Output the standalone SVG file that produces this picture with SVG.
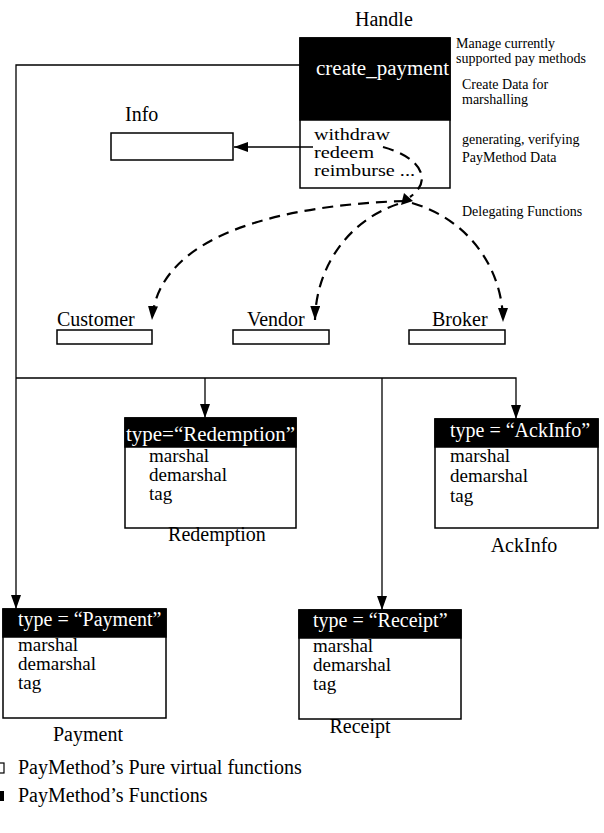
<svg xmlns="http://www.w3.org/2000/svg" width="604" height="833" viewBox="0 0 604 833">
<style>
text{font-family:"Liberation Serif","Times New Roman",serif;fill:#000}
.l{font-size:20px}
.m{font-size:19px}
.h{font-size:16px}
.s{font-size:14px}
.w{fill:#fff}
.box{fill:#fff;stroke:#000;stroke-width:1.5}
.hd{fill:#000;stroke:#000;stroke-width:1.5}
.ln{fill:none;stroke:#000;stroke-width:1.3}
.ds{fill:none;stroke:#000;stroke-width:2.2;stroke-dasharray:11 7}
</style>
<defs>
<marker id="ahd" viewBox="0 0 14 10" refX="14" refY="5" markerWidth="14" markerHeight="10" markerUnits="userSpaceOnUse" orient="auto">
<path d="M0,0 L14,5 L0,10 z" fill="#000"/>
</marker>
</defs>
<rect width="604" height="833" fill="#fff"/>

<g id="handle">
<text class="l" x="355" y="26">Handle</text>
<rect class="box" x="300" y="38" width="150" height="150"/>
<rect class="hd" x="300" y="38" width="150" height="82"/>
<text class="l w" x="316" y="75" textLength="133" lengthAdjust="spacingAndGlyphs">create_payment</text>
<text class="h" x="314" y="140" textLength="76" lengthAdjust="spacingAndGlyphs">withdraw</text>
<text class="h" x="314" y="158" textLength="60" lengthAdjust="spacingAndGlyphs">redeem</text>
<text class="h" x="314" y="176" textLength="101" lengthAdjust="spacingAndGlyphs">reimburse ...</text>
</g>

<g id="connectors">
<polyline class="ln" points="300,65 16,65 16,609" marker-end="url(#ahd)"/>
<line class="ln" x1="313" y1="147" x2="234" y2="147" marker-end="url(#ahd)"/>
<polyline class="ln" points="16,378 516,378 516,419" marker-end="url(#ahd)"/>
<line class="ln" x1="205" y1="378" x2="205" y2="418" marker-end="url(#ahd)"/>
<line class="ln" x1="382" y1="378" x2="382" y2="610" marker-end="url(#ahd)"/>
<path class="ds" d="M383,147 C420,157 434,180 410,197"/>
<path d="M401,205 L404,193 L413,201 z" fill="#000"/>
<path class="ds" d="M405,201 C280,205 158,235 152,320" marker-end="url(#ahd)"/>
<path class="ds" d="M398,204 C350,220 316,265 315,320" marker-end="url(#ahd)"/>
<path class="ds" d="M412,203 C470,220 503,270 503,322" marker-end="url(#ahd)"/>
</g>

<g id="notes">
<text class="s" x="456" y="48">Manage currently</text>
<text class="s" x="456" y="63">supported pay methods</text>
<text class="s" x="462" y="89">Create Data for</text>
<text class="s" x="462" y="104">marshalling</text>
<text class="s" x="462" y="144">generating, verifying</text>
<text class="s" x="462" y="162">PayMethod Data</text>
<text class="s" x="462" y="216">Delegating Functions</text>
</g>

<g id="info">
<text class="l" x="125" y="121">Info</text>
<rect class="box" x="111" y="133" width="122" height="27"/>
</g>

<g id="customer">
<text class="l" x="57" y="326">Customer</text>
<rect class="box" x="57" y="330" width="95" height="14"/>
</g>
<g id="vendor">
<text class="l" x="247" y="326">Vendor</text>
<rect class="box" x="233" y="330" width="96" height="14"/>
</g>
<g id="broker">
<text class="l" x="432" y="326">Broker</text>
<rect class="box" x="409" y="330" width="96" height="14"/>
</g>

<g id="redemption">
<rect class="box" x="125" y="418" width="171" height="110"/>
<rect class="hd" x="125" y="418" width="171" height="29"/>
<text class="l w" x="126" y="441" textLength="169" lengthAdjust="spacingAndGlyphs">type=“Redemption”</text>
<text class="m" x="149" y="462">marshal</text>
<text class="m" x="149" y="481">demarshal</text>
<text class="m" x="149" y="500">tag</text>
<text class="l" x="217" y="541" text-anchor="middle">Redemption</text>
</g>

<g id="ackinfo">
<rect class="box" x="435" y="419" width="163" height="109"/>
<rect class="hd" x="435" y="419" width="163" height="28"/>
<text class="l w" x="450" y="437">type = “AckInfo”</text>
<text class="m" x="450" y="462">marshal</text>
<text class="m" x="450" y="482">demarshal</text>
<text class="m" x="450" y="502">tag</text>
<text class="l" x="524" y="552" text-anchor="middle">AckInfo</text>
</g>

<g id="payment">
<rect class="box" x="3" y="609" width="163" height="109"/>
<rect class="hd" x="3" y="609" width="163" height="28"/>
<text class="l w" x="18" y="626">type = “Payment”</text>
<text class="m" x="18" y="651">marshal</text>
<text class="m" x="18" y="670">demarshal</text>
<text class="m" x="18" y="689">tag</text>
<text class="l" x="88" y="741" text-anchor="middle">Payment</text>
</g>

<g id="receipt">
<rect class="box" x="299" y="610" width="162" height="109"/>
<rect class="hd" x="299" y="610" width="162" height="28"/>
<text class="l w" x="313" y="627">type = “Receipt”</text>
<text class="m" x="313" y="652">marshal</text>
<text class="m" x="313" y="671">demarshal</text>
<text class="m" x="313" y="690">tag</text>
<text class="l" x="360" y="733" text-anchor="middle">Receipt</text>
</g>

<g id="legend">
<rect x="-3" y="763" width="7" height="10" fill="#fff" stroke="#000" stroke-width="1.2"/>
<text class="l" x="18" y="774">PayMethod’s Pure virtual functions</text>
<rect x="-1" y="791" width="5" height="10" fill="#000"/>
<text class="l" x="18" y="802">PayMethod’s Functions</text>
</g>
</svg>
